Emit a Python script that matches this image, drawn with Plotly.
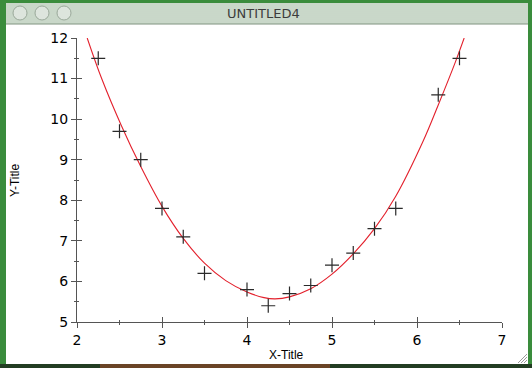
import plotly.graph_objects as go

# Data
pt_x = [2.25, 2.5, 2.75, 3.0, 3.25, 3.5, 4.0, 4.25, 4.5, 4.75, 5.0, 5.25, 5.5, 5.75, 6.25, 6.5]
pt_y = [11.5, 9.7, 9.0, 7.8, 7.1, 6.2, 5.8, 5.4, 5.7, 5.9, 6.4, 6.7, 7.3, 7.8, 10.6, 11.5]

fit_x = [2.12, 2.29, 2.52, 2.75, 3.0, 3.25, 3.5, 3.75, 4.0, 4.2, 4.33, 4.5, 4.75, 5.0,
         5.25, 5.5, 5.75, 6.07, 6.25, 6.45, 6.555]
fit_y = [12.0, 11.0, 9.85, 8.83, 7.85, 7.06, 6.45, 6.02, 5.74, 5.60, 5.57, 5.62, 5.82, 6.18,
         6.68, 7.3, 8.1, 9.45, 10.35, 11.4, 12.0]

x_ticks = [2, 3, 4, 5, 6, 7]
y_ticks = [5, 6, 7, 8, 9, 10, 11, 12]
window_title = "UNTITLED4"
x_title = "X-Title"
y_title = "Y-Title"

W, H = 532, 368
L, R, T, B = 77, 30, 38, 46
PW, PH = W - L - R, H - T - B


def px(x):
    return (x - L) / PW


def py(y):
    return (H - B - y) / PH


fig = go.Figure()
fig.add_trace(go.Scatter(x=fit_x, y=fit_y, mode="lines", line=dict(color="#e3202c", width=1.1, shape="spline", smoothing=1.0),
                         hoverinfo="skip", showlegend=False))
fig.add_trace(go.Scatter(x=pt_x, y=pt_y, mode="markers",
                         marker=dict(symbol="cross-thin", size=10, line=dict(color="#2a2a2a", width=1.2)),
                         showlegend=False))
# overlay-axes trace (invisible) to make the inside ticks appear
fig.add_trace(go.Scatter(x=[2], y=[5], xaxis="x2", yaxis="y2", mode="markers", marker=dict(opacity=0),
                         hoverinfo="skip", showlegend=False))

shapes = []
# window body
shapes.append(dict(type="rect", xref="paper", yref="paper", x0=px(6), x1=px(528), y0=py(364), y1=py(22),
                   fillcolor="white", line=dict(width=0), layer="below"))
# title bar
shapes.append(dict(type="rect", xref="paper", yref="paper", x0=px(6), x1=px(528), y0=py(24), y1=py(3),
                   fillcolor="#cfdccf", line=dict(width=0), layer="below"))
for yy in range(4, 24, 2):
    shapes.append(dict(type="line", xref="paper", yref="paper", x0=px(6), x1=px(528), y0=py(yy), y1=py(yy),
                       line=dict(color="#c3d3c3", width=1), layer="below"))
shapes.append(dict(type="line", xref="paper", yref="paper", x0=px(6), x1=px(528), y0=py(24), y1=py(24),
                   line=dict(color="#7f927f", width=1.2), layer="below"))
for cx in (20, 42, 64):
    shapes.append(dict(type="circle", xref="paper", yref="paper", x0=px(cx - 7), x1=px(cx + 7),
                       y0=py(13 + 7), y1=py(13 - 7), fillcolor="#dde5dd",
                       line=dict(color="#9aa99a", width=1), layer="below"))
# bottom strip (desktop behind window)
shapes.append(dict(type="rect", xref="paper", yref="paper", x0=px(0), x1=px(532), y0=py(368), y1=py(364),
                   fillcolor="#223d22", line=dict(width=0), layer="below"))
shapes.append(dict(type="rect", xref="paper", yref="paper", x0=px(100), x1=px(330), y0=py(368), y1=py(364),
                   fillcolor="#6a4426", line=dict(width=0), layer="below"))
# resize grip
for d in (3, 6, 9):
    shapes.append(dict(type="line", xref="paper", yref="paper", x0=px(527 - d), x1=px(527), y0=py(363), y1=py(363 - d),
                       line=dict(color="#9a9a9a", width=1), layer="below"))

annotations = [
    dict(text=window_title, xref="paper", yref="paper", x=px(263), y=py(13), showarrow=False,
         font=dict(family="DejaVu Sans", size=13, color="#3c3c3c"), xanchor="center", yanchor="middle"),
    dict(text=x_title, xref="paper", yref="paper", x=px(286), y=py(355), showarrow=False,
         font=dict(family="Liberation Sans", size=12, color="black"), xanchor="center", yanchor="middle"),
    dict(text=y_title, xref="paper", yref="paper", x=px(15), y=py(181), showarrow=False, textangle=-90,
         font=dict(family="Liberation Sans", size=12, color="black"), xanchor="center", yanchor="middle"),
]

axis_common = dict(showgrid=False, zeroline=False, linecolor="#555555", linewidth=1, tickcolor="#555555",
                   tickwidth=1, tickfont=dict(family="DejaVu Sans", size=14, color="black"))

fig.update_layout(
    width=W, height=H, margin=dict(l=L, r=R, t=T, b=B, pad=0),
    paper_bgcolor="#3a8c3c", plot_bgcolor="white",
    xaxis=dict(range=[2, 7], tickvals=x_ticks, ticks="outside", ticklen=5, showline=True,
               minor=dict(dtick=0.5, ticks="outside", ticklen=2, tickcolor="#555555"), **axis_common),
    yaxis=dict(range=[5, 12], tickvals=y_ticks, ticks="outside", ticklen=5, showline=True,
               minor=dict(dtick=0.5, ticks="outside", ticklen=2, tickcolor="#555555"), **axis_common),
    xaxis2=dict(range=[2, 7], overlaying="x", tickvals=x_ticks, ticks="inside", ticklen=5, showticklabels=False,
                showline=False, showgrid=False, zeroline=False, tickcolor="#555555",
                minor=dict(dtick=0.5, ticks="inside", ticklen=2, tickcolor="#555555"), side="bottom"),
    yaxis2=dict(range=[5, 12], overlaying="y", tickvals=y_ticks, ticks="inside", ticklen=5, showticklabels=False,
                showline=False, showgrid=False, zeroline=False, tickcolor="#555555",
                minor=dict(dtick=0.5, ticks="inside", ticklen=2, tickcolor="#555555"), side="left"),
    shapes=shapes, annotations=annotations, showlegend=False,
)

fig.write_html("out.html")
